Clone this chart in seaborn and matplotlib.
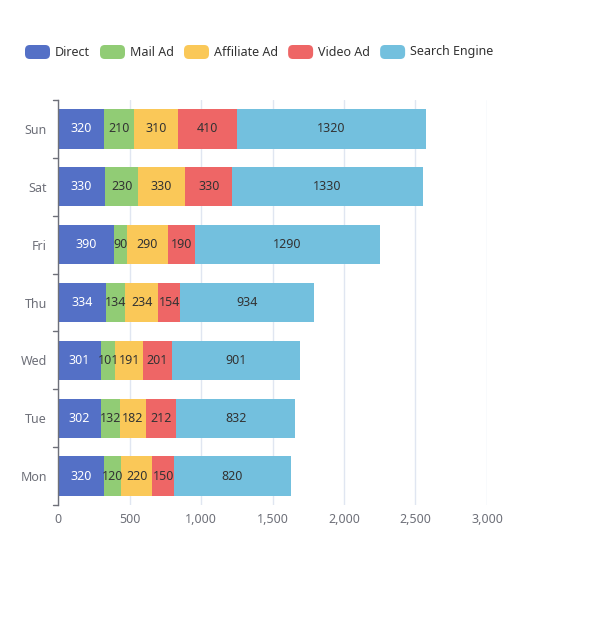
import numpy as np
import pandas as pd
import seaborn as sns
from matplotlib import pyplot as plt
from matplotlib.patches import FancyBboxPatch
from matplotlib.transforms import blended_transform_factory

days = ['Mon', 'Tue', 'Wed', 'Thu', 'Fri', 'Sat', 'Sun']
series_names = ['Direct', 'Mail Ad', 'Affiliate Ad', 'Video Ad', 'Search Engine']
direct = [320, 302, 301, 334, 390, 330, 320]
mail_ad = [120, 132, 101, 134, 90, 230, 210]
affiliate_ad = [220, 182, 191, 234, 290, 330, 310]
video_ad = [150, 212, 201, 154, 190, 330, 410]
search_engine = [820, 832, 901, 934, 1290, 1330, 1320]
colors = ['#5470c6', '#91cc75', '#fac858', '#ee6666', '#73c0de']

sns.set_theme(style='white')
plt.rcParams['font.family'] = ['Noto Sans', 'DejaVu Sans']

values = np.array([direct, mail_ad, affiliate_ad, video_ad, search_engine])
cum = values.cumsum(axis=0)
order = days[::-1]

fig = plt.figure(figsize=(5.93, 6.21), dpi=100)
ax = fig.add_axes([58 / 593, 1 - 505 / 621, (487 - 58) / 593, 405 / 621])

# stacked look: draw cumulative totals from largest to smallest
for i in range(len(series_names) - 1, -1, -1):
    df = pd.DataFrame({'day': days, 'value': cum[i]})
    sns.barplot(data=df, y='day', x='value', order=order, orient='h',
                color=colors[i], saturation=1, width=0.68, ax=ax,
                linewidth=0, edgecolor='none')

# labels in the middle of each segment
for i in range(len(series_names)):
    for j, d in enumerate(days):
        pos = order.index(d)
        start = cum[i][j] - values[i][j]
        ax.text(start + values[i][j] / 2, pos, str(values[i][j]),
                ha='center', va='center', fontsize=9,
                color='white' if i == 0 else '#333333')

ax.set_xlim(0, 3000)
ax.set_ylim(len(days) - 0.5, -0.5)
ax.set_xticks(np.arange(0, 3001, 500))
ax.set_xticklabels([f'{v:,}' for v in range(0, 3001, 500)])
ax.xaxis.grid(True, color='#e0e6f1', linewidth=1)
ax.yaxis.grid(False)
ax.set_axisbelow(True)
ax.set_xlabel('')
ax.set_ylabel('')
for s in ['top', 'right', 'bottom']:
    ax.spines[s].set_visible(False)
ax.spines['left'].set_color('#6e7079')
ax.spines['left'].set_linewidth(1)
ax.tick_params(axis='x', length=0, colors='#6e7079', labelsize=9, pad=6)
ax.tick_params(axis='y', length=0, colors='#6e7079', labelsize=9, pad=8)

# category boundary ticks on the y axis
trans = blended_transform_factory(ax.transAxes, ax.transData)
for b in np.arange(-0.5, len(days), 1):
    ax.plot([-5 / 429, 0], [b, b], color='#6e7079', lw=1, transform=trans,
            clip_on=False)

# legend along the top with rounded swatches
fig.canvas.draw()
renderer = fig.canvas.get_renderer()
x = 25
yc = 1 - 52 / 621
for name, c in zip(series_names, colors):
    box = FancyBboxPatch((x / 593, yc - 7 / 621), 25 / 593, 14 / 621,
                         boxstyle='round,pad=0,rounding_size=0.008',
                         transform=fig.transFigure, facecolor=c,
                         edgecolor='none')
    fig.patches.append(box)
    t = fig.text((x + 30) / 593, yc, name, fontsize=9, color='#333333',
                 va='center', ha='left')
    w = t.get_window_extent(renderer).width
    x = x + 30 + w + 10

fig.savefig('out.png', dpi=100)
